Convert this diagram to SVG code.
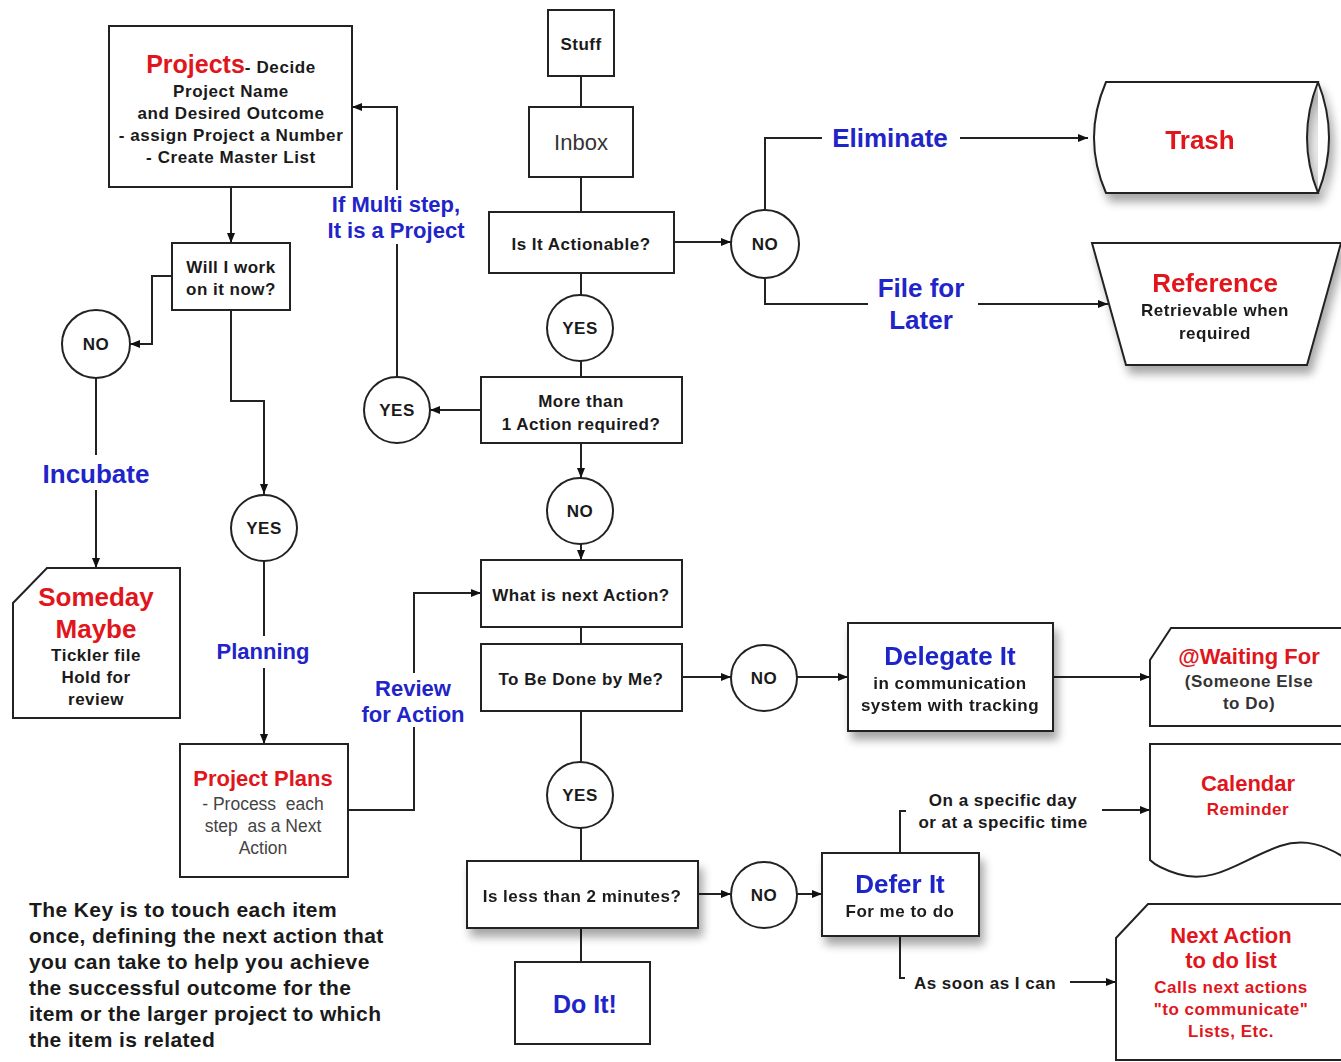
<svg xmlns="http://www.w3.org/2000/svg" width="1341" height="1062" viewBox="0 0 1341 1062">
<defs>
<marker id="ah" viewBox="0 0 10 10" refX="10" refY="5" markerWidth="10" markerHeight="10" markerUnits="userSpaceOnUse" orient="auto">
<path d="M0,1 L10,5 L0,9 z" fill="#111"/>
</marker>
<filter id="sh" x="-20%" y="-20%" width="150%" height="160%">
<feGaussianBlur in="SourceAlpha" stdDeviation="5"/>
<feOffset dx="4" dy="8" result="b"/>
<feComponentTransfer><feFuncA type="linear" slope="0.35"/></feComponentTransfer>
<feMerge><feMergeNode/><feMergeNode in="SourceGraphic"/></feMerge>
</filter>
<style>
.box{fill:#fff;stroke:#222;stroke-width:2}
.c{fill:none;stroke:#222;stroke-width:2}
.t{font-family:"Liberation Sans",Arial,sans-serif;font-weight:bold;fill:#1a1a1a;text-anchor:middle}
.n{font-size:17px;letter-spacing:0.5px}
.p{font-size:17px;letter-spacing:0.6px}
.k{font-size:21px;letter-spacing:0.4px;text-anchor:start}
.red{fill:#e0161c}
.blue{fill:#1f25c8}
.reg{font-weight:normal;fill:#444}
</style>
</defs>
<rect width="1341" height="1062" fill="#fff"/>

<g id="connectors" class="c">
<line x1="581" y1="76" x2="581" y2="107"/>
<line x1="581" y1="177" x2="581" y2="212"/>
<line x1="674" y1="242" x2="731" y2="242" marker-end="url(#ah)"/>
<polyline points="765,209 765,138 822,138"/>
<line x1="960" y1="138" x2="1088" y2="138" marker-end="url(#ah)"/>
<polyline points="765,279 765,304 868,304"/>
<line x1="978" y1="304" x2="1108" y2="304" marker-end="url(#ah)"/>
<line x1="581" y1="273" x2="581" y2="295"/>
<line x1="581" y1="361" x2="581" y2="377"/>
<line x1="481" y1="410" x2="430" y2="410" marker-end="url(#ah)"/>
<polyline points="397,377 397,107 352,107" marker-end="url(#ah)"/>
<line x1="231" y1="187" x2="231" y2="243" marker-end="url(#ah)"/>
<polyline points="172,276 152,276 152,344 130,344" marker-end="url(#ah)"/>
<line x1="96" y1="378" x2="96" y2="455"/>
<line x1="96" y1="490" x2="96" y2="568" marker-end="url(#ah)"/>
<polyline points="231,310 231,401 264,401 264,494" marker-end="url(#ah)"/>
<line x1="264" y1="561" x2="264" y2="636"/>
<line x1="264" y1="668" x2="264" y2="744" marker-end="url(#ah)"/>
<polyline points="348,810 414,810 414,593 481,593" marker-end="url(#ah)"/>
<line x1="581" y1="443" x2="581" y2="478" marker-end="url(#ah)"/>
<line x1="581" y1="544" x2="581" y2="560" marker-end="url(#ah)"/>
<line x1="581" y1="627" x2="581" y2="644"/>
<line x1="682" y1="677" x2="731" y2="677" marker-end="url(#ah)"/>
<line x1="797" y1="677" x2="848" y2="677" marker-end="url(#ah)"/>
<line x1="1053" y1="677" x2="1150" y2="677" marker-end="url(#ah)"/>
<line x1="581" y1="711" x2="581" y2="762"/>
<line x1="581" y1="828" x2="581" y2="861"/>
<line x1="698" y1="894" x2="731" y2="894" marker-end="url(#ah)"/>
<line x1="797" y1="894" x2="822" y2="894" marker-end="url(#ah)"/>
<polyline points="900,853 900,811 906,811"/>
<line x1="1102" y1="810" x2="1150" y2="810" marker-end="url(#ah)"/>
<polyline points="900,936 900,978 905,978"/>
<line x1="1070" y1="982" x2="1116" y2="982" marker-end="url(#ah)"/>
<line x1="581" y1="928" x2="581" y2="962"/>
</g>

<g id="stuff"><rect class="box" x="548" y="10" width="66" height="66"/><text class="t n" x="581" y="50">Stuff</text></g>
<g id="inbox"><rect class="box" x="529" y="107" width="104" height="70"/><text class="t reg" x="581" y="150" font-size="22" style="fill:#333">Inbox</text></g>
<g id="actionable"><rect class="box" x="489" y="212" width="185" height="61"/><text class="t n" x="581" y="250">Is It Actionable?</text></g>
<g id="no1"><circle class="box" cx="765" cy="244" r="34"/><text class="t n" x="765" y="250">NO</text></g>
<g id="eliminate"><text class="t blue" x="890" y="147" font-size="26">Eliminate</text></g>
<g id="fileforlater"><text class="t blue" x="921" y="297" font-size="26">File for</text><text class="t blue" x="921" y="329" font-size="26">Later</text></g>
<g id="trash" filter="url(#sh)">
<path class="box" d="M1106,82 L1318,82 Q1296,138 1318,193 L1106,193 Q1082,138 1106,82 z"/>
<path class="box" d="M1318,82 Q1340,138 1318,193"/>
<text class="t red" x="1200" y="149" font-size="26">Trash</text>
</g>
<g id="reference" filter="url(#sh)">
<path class="box" d="M1092,243 L1341,243 L1307,365 L1126,365 z"/>
<text class="t red" x="1215" y="292" font-size="26">Reference</text>
<text class="t n" x="1215" y="316">Retrievable when</text>
<text class="t n" x="1215" y="339">required</text>
</g>
<g id="yes1"><circle class="box" cx="580" cy="328" r="33"/><text class="t n" x="580" y="334">YES</text></g>
<g id="morethan"><rect class="box" x="481" y="377" width="201" height="66"/><text class="t n" x="581" y="407">More than</text><text class="t n" x="581" y="430">1 Action required?</text></g>
<g id="yes2"><circle class="box" cx="397" cy="410" r="33"/><text class="t n" x="397" y="416">YES</text></g>
<g id="multistep"><rect x="330" y="190" width="134" height="54" fill="#fff"/><text class="t blue" x="396" y="212" font-size="22">If Multi step,</text><text class="t blue" x="396" y="238" font-size="22">It is a Project</text></g>
<g id="projects">
<rect class="box" x="109" y="26" width="243" height="161"/>
<text class="t" x="231" y="73"><tspan class="red" font-size="25">Projects</tspan><tspan font-size="17" letter-spacing="0.6">- Decide</tspan></text>
<text class="t p" x="231" y="97">Project Name</text>
<text class="t p" x="231" y="119">and Desired Outcome</text>
<text class="t p" x="231" y="141">- assign Project a Number</text>
<text class="t p" x="231" y="163">- Create Master List</text>
</g>
<g id="willwork"><rect class="box" x="172" y="243" width="118" height="67"/><text class="t n" x="231" y="273">Will I work</text><text class="t n" x="231" y="295">on it now?</text></g>
<g id="no2"><circle class="box" cx="96" cy="344" r="34"/><text class="t n" x="96" y="350">NO</text></g>
<g id="incubate"><text class="t blue" x="96" y="483" font-size="26">Incubate</text></g>
<g id="someday">
<path class="box" d="M13,603 L47,568 L180,568 L180,718 L13,718 z"/>
<text class="t red" x="96" y="606" font-size="26">Someday</text>
<text class="t red" x="96" y="638" font-size="26">Maybe</text>
<text class="t n" x="96" y="661">Tickler file</text>
<text class="t n" x="96" y="683">Hold for</text>
<text class="t n" x="96" y="705">review</text>
</g>
<g id="yes3"><circle class="box" cx="264" cy="528" r="33"/><text class="t n" x="264" y="534">YES</text></g>
<g id="planning"><text class="t blue" x="263" y="659" font-size="22">Planning</text></g>
<g id="projectplans">
<rect class="box" x="180" y="744" width="168" height="133"/>
<text class="t red" x="263" y="786" font-size="22">Project Plans</text>
<text class="t reg" x="263" y="810" font-size="17.5" xml:space="preserve">- Process  each</text>
<text class="t reg" x="263" y="832" font-size="17.5" xml:space="preserve">step  as a Next</text>
<text class="t reg" x="263" y="854" font-size="17.5">Action</text>
</g>
<g id="review"><rect x="362" y="673" width="104" height="54" fill="#fff"/><text class="t blue" x="413" y="696" font-size="22">Review</text><text class="t blue" x="413" y="722" font-size="22">for Action</text></g>
<g id="no3"><circle class="box" cx="580" cy="511" r="33"/><text class="t n" x="580" y="517">NO</text></g>
<g id="nextaction"><rect class="box" x="481" y="560" width="201" height="67"/><text class="t n" x="581" y="601">What is next Action?</text></g>
<g id="bydme"><rect class="box" x="481" y="644" width="201" height="67"/><text class="t n" x="581" y="685">To Be Done by Me?</text></g>
<g id="no4"><circle class="box" cx="764" cy="678" r="33"/><text class="t n" x="764" y="684">NO</text></g>
<g id="delegate" filter="url(#sh)">
<rect class="box" x="848" y="623" width="205" height="108"/>
<text class="t blue" x="950" y="665" font-size="26">Delegate It</text>
<text class="t n" x="950" y="689">in communication</text>
<text class="t n" x="950" y="711">system with tracking</text>
</g>
<g id="waiting">
<path class="box" d="M1150,660 L1171,628 L1345,628 L1345,726 L1150,726 z"/>
<text class="t red" x="1249" y="664" font-size="22">@Waiting For</text>
<text class="t n" x="1249" y="687" style="fill:#333">(Someone Else</text>
<text class="t n" x="1249" y="709" style="fill:#333">to Do)</text>
</g>
<g id="calendar">
<path class="box" d="M1150,744 L1345,744 L1345,858 C1325,845 1305,838 1280,846 C1240,860 1215,885 1178,874 C1165,870 1155,865 1150,860 z"/>
<text class="t red" x="1248" y="791" font-size="22">Calendar</text>
<text class="t red n" x="1248" y="815">Reminder</text>
</g>
<g id="yes4"><circle class="box" cx="580" cy="795" r="33"/><text class="t n" x="580" y="801">YES</text></g>
<g id="lessthan2" filter="url(#sh)"><rect class="box" x="467" y="861" width="231" height="67"/><text class="t n" x="582" y="902">Is less than 2 minutes?</text></g>
<g id="no5"><circle class="box" cx="764" cy="895" r="33"/><text class="t n" x="764" y="901">NO</text></g>
<g id="defer" filter="url(#sh)">
<rect class="box" x="822" y="853" width="157" height="83"/>
<text class="t blue" x="900" y="893" font-size="26">Defer It</text>
<text class="t n" x="900" y="917">For me to do</text>
</g>
<g id="specificday"><text class="t n" x="1003" y="806">On a specific day</text><text class="t n" x="1003" y="828">or at a specific time</text></g>
<g id="assoon"><text class="t n" x="985" y="989">As soon as I can</text></g>
<g id="nextactionlist">
<path class="box" d="M1116,938 L1148,904 L1345,904 L1345,1060 L1116,1060 z"/>
<text class="t red" x="1231" y="943" font-size="22">Next Action</text>
<text class="t red" x="1231" y="968" font-size="22">to do list</text>
<text class="t red n" x="1231" y="993">Calls next actions</text>
<text class="t red n" x="1231" y="1015">"to communicate"</text>
<text class="t red n" x="1231" y="1037">Lists, Etc.</text>
</g>
<g id="doit"><rect class="box" x="515" y="962" width="135" height="82"/><text class="t blue" x="585" y="1013" font-size="25">Do It!</text></g>
<g id="key">
<text class="t k" x="29" y="917">The Key is to touch each item</text>
<text class="t k" x="29" y="943">once, defining the next action that</text>
<text class="t k" x="29" y="969">you can take to help you achieve</text>
<text class="t k" x="29" y="995">the successful outcome for the</text>
<text class="t k" x="29" y="1021">item or the larger project to which</text>
<text class="t k" x="29" y="1047">the item is related</text>
</g>
</svg>
